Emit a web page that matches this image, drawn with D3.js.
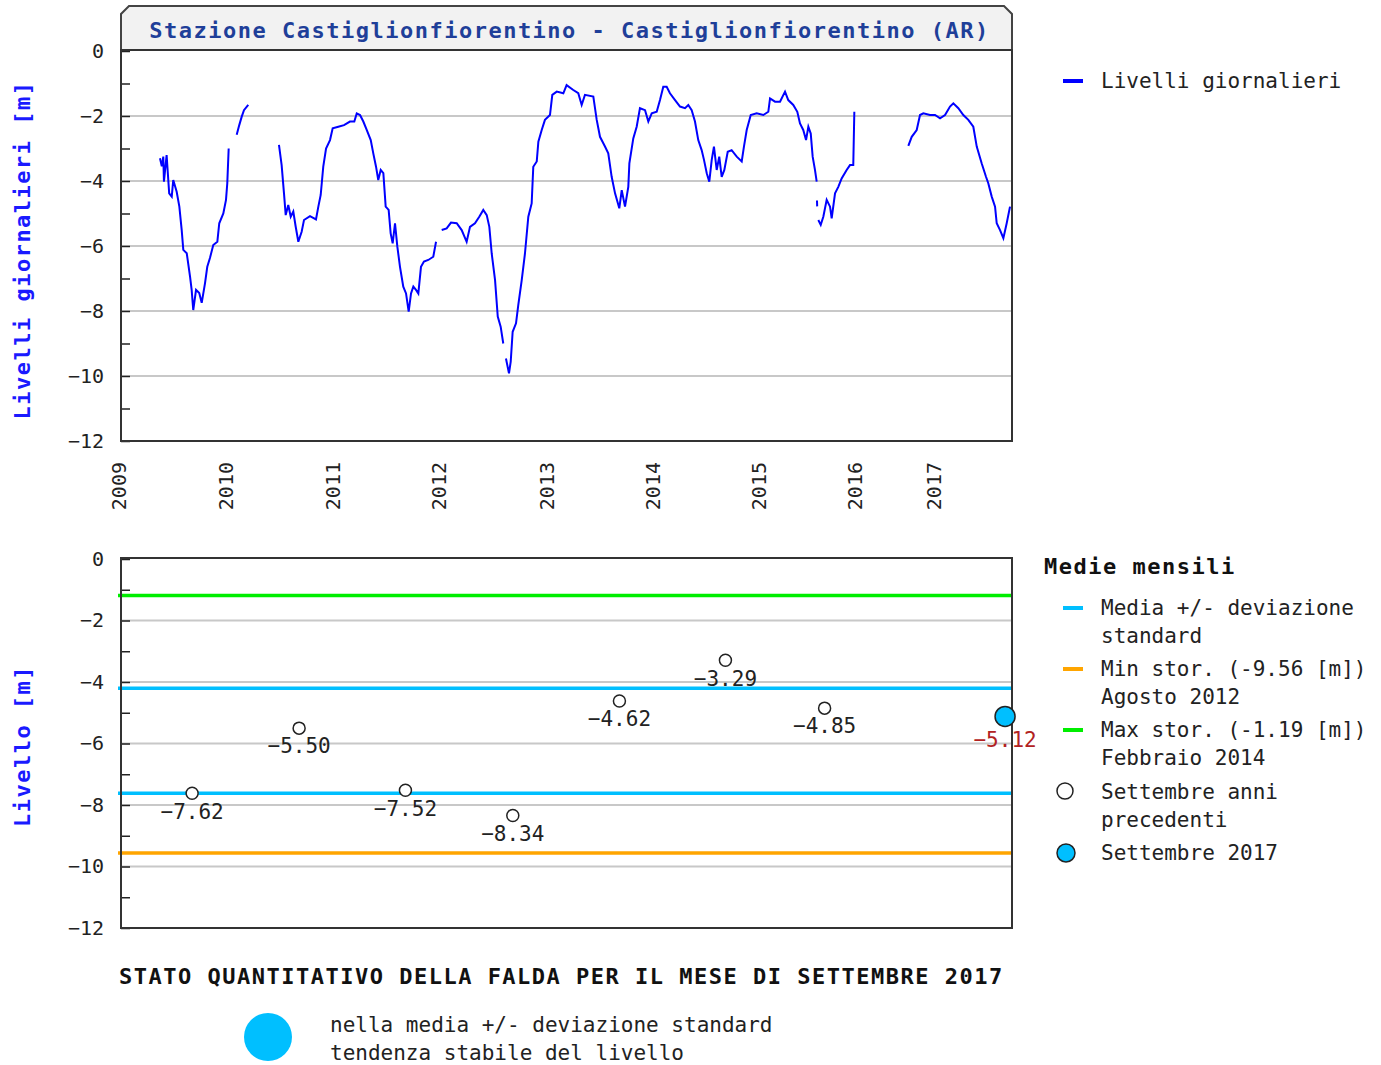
<!DOCTYPE html>
<html lang="it">
<head>
    <meta charset="UTF-8">
    <title>Stazione Castiglionfiorentino</title>
    <script src="https://d3js.org/d3.v7.min.js"></script>
    <style>
        body { margin: 0; background: #fff; }
        text { font-family: "DejaVu Sans Mono", "Liberation Mono", monospace; }
        .tick text { font-size: 20px; fill: #222; }
        .tick line { stroke: #222; stroke-width: 1.5; }
        .domain { display: none; }
        .grid { stroke: #c8c8c8; stroke-width: 2; }
        .frame { fill: none; stroke: #333; stroke-width: 2; }
        .bold { font-weight: bold; letter-spacing: 1.5px; font-size: 22px; }
        .leg { font-size: 21px; fill: #222; }
    </style>
</head>
<body>
<svg width="1381" height="1065"></svg>
<script>
// Livelli giornalieri (anno decimale, livello in m); null = dato mancante
const anni = [
  2009.383, 2009.400, 2009.414, 2009.420, 2009.445, 2009.469, 2009.493, 2009.507, 2009.539, 2009.564,
  2009.586, 2009.601, 2009.633, 2009.664, 2009.679, 2009.694, 2009.720, 2009.750, 2009.773, 2009.804,
  2009.825, 2009.850, 2009.881, 2009.919, 2009.937, 2009.975, 2010.000, 2010.012, 2010.025, 2010.060,
  2010.100, 2010.124, 2010.147, 2010.168, 2010.208, 2010.350,
  2010.495, 2010.520, 2010.542, 2010.558, 2010.582, 2010.605, 2010.629, 2010.651, 2010.676, 2010.707,
  2010.729, 2010.785, 2010.841, 2010.863, 2010.885, 2010.909, 2010.935, 2010.972, 2010.997, 2011.050,
  2011.104, 2011.160, 2011.201, 2011.224, 2011.255, 2011.286, 2011.318, 2011.356, 2011.380, 2011.406,
  2011.427, 2011.450, 2011.475, 2011.497, 2011.525, 2011.544, 2011.563, 2011.585, 2011.607, 2011.632,
  2011.663, 2011.689, 2011.714, 2011.736, 2011.758, 2011.783, 2011.805, 2011.830, 2011.858, 2011.899,
  2011.946, 2011.972, 2011.998,
  2012.025, 2012.071, 2012.111, 2012.164, 2012.210, 2012.256, 2012.287, 2012.333, 2012.373, 2012.410,
  2012.442, 2012.466, 2012.488, 2012.519, 2012.544, 2012.571, 2012.595, 2012.608,
  2012.620, 2012.648, 2012.664, 2012.682, 2012.713, 2012.734, 2012.766, 2012.796, 2012.827, 2012.858,
  2012.873, 2012.905, 2012.920, 2012.951, 2012.981, 2013.028, 2013.050, 2013.092, 2013.154, 2013.185,
  2013.248, 2013.295, 2013.327, 2013.358, 2013.437, 2013.469, 2013.500, 2013.547, 2013.578, 2013.610,
  2013.642, 2013.682, 2013.705, 2013.736, 2013.767, 2013.777, 2013.814, 2013.846, 2013.877, 2013.925,
  2013.956, 2013.988, 2014.035, 2014.066, 2014.097, 2014.129, 2014.160, 2014.208, 2014.255, 2014.302,
  2014.333, 2014.365, 2014.396, 2014.427, 2014.459, 2014.481, 2014.507, 2014.531, 2014.554, 2014.575,
  2014.601, 2014.625, 2014.648, 2014.673, 2014.705, 2014.742, 2014.790, 2014.837, 2014.858, 2014.884,
  2014.922, 2014.978, 2015.045, 2015.097, 2015.115, 2015.167, 2015.219, 2015.271, 2015.305, 2015.357,
  2015.399, 2015.427, 2015.461, 2015.490, 2015.514, 2015.539, 2015.559, 2015.583, 2015.601, 2015.602,
  2015.604, 2015.606, 2015.612,
  2015.618, 2015.643, 2015.670, 2015.705, 2015.740, 2015.757, 2015.792, 2015.826, 2015.861, 2015.913,
  2015.948, 2015.982, 2015.993, 2016.300,
  2016.675, 2016.718, 2016.781, 2016.823, 2016.865, 2016.949, 2017.010, 2017.058, 2017.106, 2017.154,
  2017.186, 2017.234, 2017.282, 2017.330, 2017.378, 2017.411, 2017.459, 2017.500, 2017.522, 2017.555,
  2017.587, 2017.603, 2017.635, 2017.667, 2017.699, 2017.731
];
const livelli = [
  -3.30, -3.55, -3.25, -4.02, -3.20, -4.38, -4.48, -3.97, -4.33, -4.79,
  -5.51, -6.12, -6.22, -6.94, -7.35, -7.97, -7.35, -7.45, -7.75, -7.14,
  -6.64, -6.37, -5.97, -5.87, -5.30, -5.00, -4.58, -4.07, -3.00, null,
  -2.58, -2.28, -2.02, -1.82, -1.66, null,
  -2.89, -3.51, -4.38, -5.05, -4.74, -5.10, -4.94, -5.40, -5.87, -5.56,
  -5.20, -5.08, -5.18, -4.79, -4.43, -3.56, -3.00, -2.74, -2.38, -2.33,
  -2.28, -2.17, -2.17, -1.92, -1.97, -2.17, -2.43, -2.74, -3.15, -3.56,
  -3.97, -3.66, -3.76, -4.79, -4.89, -5.61, -5.92, -5.30, -6.02, -6.64,
  -7.25, -7.46, -8.02, -7.46, -7.25, -7.35, -7.46, -6.64, -6.48, -6.43,
  -6.33, -5.87, null,
  -5.51, -5.46, -5.28, -5.30, -5.51, -5.87, -5.41, -5.30, -5.10, -4.89,
  -5.05, -5.41, -6.23, -7.05, -8.17, -8.48, -9.00, null,
  -9.46, -9.92, -9.56, -8.64, -8.38, -7.82, -7.05, -6.23, -5.10, -4.69,
  -3.56, -3.40, -2.79, -2.43, -2.12, -1.97, -1.35, -1.25, -1.30, -1.05,
  -1.20, -1.30, -1.66, -1.35, -1.40, -2.12, -2.64, -2.94, -3.15, -3.87,
  -4.38, -4.84, -4.28, -4.79, -4.18, -3.46, -2.69, -2.33, -1.76, -1.82,
  -2.17, -1.92, -1.87, -1.51, -1.10, -1.10, -1.30, -1.51, -1.71, -1.76,
  -1.66, -1.82, -2.17, -2.74, -3.05, -3.35, -3.76, -4.02, -3.35, -2.94,
  -3.66, -3.25, -3.87, -3.66, -3.10, -3.05, -3.25, -3.40, -2.94, -2.43,
  -1.97, -1.92, -1.97, -1.87, -1.46, -1.56, -1.56, -1.25, -1.51, -1.66,
  -1.87, -2.23, -2.43, -2.74, -2.33, -2.54, -3.25, -3.66, -4.02, null,
  -4.60, -4.78, null,
  -5.20, -5.35, -5.10, -4.58, -4.79, -5.15, -4.38, -4.18, -3.92, -3.66,
  -3.51, -3.51, -1.87, null,
  -2.92, -2.64, -2.43, -1.97, -1.92, -1.97, -1.97, -2.07, -1.97, -1.71,
  -1.61, -1.76, -1.97, -2.12, -2.33, -2.94, -3.46, -3.87, -4.07, -4.48,
  -4.79, -5.30, -5.51, -5.76, -5.30, -4.79
];

const anniTick = [2009, 2010, 2011, 2012, 2013, 2014, 2015, 2016, 2017];
const livelliTick = [0, -2, -4, -6, -8, -10, -12];
const livelliTickMinori = [-1, -3, -5, -7, -9, -11];

// Medie mensili di settembre
const anniSettembre = [2009, 2010, 2011, 2012, 2013, 2014, 2015];
const valoriSettembre = [-7.62, -5.50, -7.52, -8.34, -4.62, -3.29, -4.85];
const annoCorrente = 2017;
const valoreCorrente = -5.12;
const mediaPiuDev = -4.20;
const mediaMenoDev = -7.62;
const minStorico = -9.56;
const maxStorico = -1.19;

const svg = d3.select("svg");
const left = 121, right = 1012;
const W = right - left;

// asse x a tratti come nel grafico originale
const x = d3.scaleLinear()
    .domain([2009, 2010, 2011, 2012, 2013, 2014, 2015, 2016, 2017, 2017.75])
    .range([-2, 105, 212, 318, 426, 532, 638, 734, 813, W].map(v => v + left));

function yAxes(g, y) {
    g.append("g")
        .attr("transform", `translate(${left},0)`)
        .call(d3.axisLeft(y).tickValues(livelliTick).tickSizeInner(-9).tickSizeOuter(0)
            .tickPadding(17).tickFormat(d3.format("d")));
    g.append("g")
        .attr("transform", `translate(${left},0)`)
        .call(d3.axisLeft(y).tickValues(livelliTickMinori).tickSizeInner(-9).tickSizeOuter(0)
            .tickFormat(""));
}

// ---------- grafico superiore ----------
const yTop = d3.scaleLinear().domain([0, -12]).range([51, 441]);
const sopra = svg.append("g");

sopra.append("path")
    .attr("d", `M${left},50 L${left},14 L${left + 8},6 L${right - 8},6 L${right},14 L${right},50 Z`)
    .attr("fill", "#f2f2f2").attr("stroke", "#444").attr("stroke-width", 2);

sopra.append("text")
    .attr("class", "bold")
    .attr("x", (left + right) / 2 + 3).attr("y", 30)
    .attr("dy", "0.35em").attr("text-anchor", "middle")
    .attr("fill", "#1f3f99")
    .text("Stazione Castiglionfiorentino - Castiglionfiorentino (AR)");

sopra.selectAll(".gtop").data([-2, -4, -6, -8, -10]).join("line")
    .attr("class", "grid")
    .attr("x1", left).attr("x2", right)
    .attr("y1", d => yTop(d)).attr("y2", d => yTop(d));

yAxes(sopra, yTop);

const linea = d3.line()
    .defined(i => livelli[i] !== null)
    .x(i => x(anni[i]))
    .y(i => yTop(livelli[i]));

sopra.append("path")
    .datum(d3.range(anni.length))
    .attr("fill", "none")
    .attr("stroke", "#0000ff")
    .attr("stroke-width", 2)
    .attr("d", linea);

sopra.append("rect").attr("class", "frame")
    .attr("x", left).attr("y", 50).attr("width", W).attr("height", 391);

sopra.selectAll(".anno").data(anniTick).join("text")
    .attr("transform", d => `translate(${x(d)},462) rotate(-90)`)
    .attr("dy", "0.35em").attr("text-anchor", "end")
    .attr("font-size", 20).attr("fill", "#222")
    .text(d => d);

sopra.append("text")
    .attr("class", "bold")
    .attr("transform", "translate(22,250) rotate(-90)")
    .attr("dy", "0.35em").attr("text-anchor", "middle")
    .attr("fill", "#1a1aff")
    .text("Livelli giornalieri [m]");

sopra.append("line")
    .attr("x1", 1063).attr("x2", 1083).attr("y1", 81).attr("y2", 81)
    .attr("stroke", "#0000ff").attr("stroke-width", 4);
sopra.append("text").attr("class", "leg")
    .attr("x", 1101).attr("y", 81).attr("dy", "0.35em")
    .text("Livelli giornalieri");

// ---------- grafico inferiore ----------
const yBot = d3.scaleLinear().domain([0, -12]).range([559, 928]);
const sotto = svg.append("g");
const settembre = 8.2 / 12;

sotto.selectAll(".gbot").data([-2, -4, -6, -8, -10]).join("line")
    .attr("class", "grid")
    .attr("x1", left).attr("x2", right)
    .attr("y1", d => yBot(d)).attr("y2", d => yBot(d));

yAxes(sotto, yBot);

const linee = [
    { v: maxStorico, c: "#00ee00" },
    { v: mediaPiuDev, c: "#00bfff" },
    { v: mediaMenoDev, c: "#00bfff" },
    { v: minStorico, c: "#ffa500" }
];
sotto.selectAll(".hl").data(linee).join("line")
    .attr("x1", left - 3).attr("x2", right)
    .attr("y1", d => yBot(d.v)).attr("y2", d => yBot(d.v))
    .attr("stroke", d => d.c).attr("stroke-width", 3.5);

const punti = anniSettembre.map((a, i) => ({ a, v: valoriSettembre[i] }));
sotto.selectAll(".pt").data(punti).join("circle")
    .attr("cx", d => x(d.a + settembre)).attr("cy", d => yBot(d.v))
    .attr("r", 6).attr("fill", "#fff").attr("stroke", "#222").attr("stroke-width", 1.5);
sotto.selectAll(".lab").data(punti).join("text")
    .attr("x", d => x(d.a + settembre)).attr("y", d => yBot(d.v) + 18)
    .attr("dy", "0.35em").attr("text-anchor", "middle")
    .attr("font-size", 21).attr("fill", "#222")
    .text(d => d3.format(".2f")(d.v).replace("-", "\u2212"));

sotto.append("rect").attr("class", "frame")
    .attr("x", left).attr("y", 558).attr("width", W).attr("height", 370);

sotto.append("circle")
    .attr("cx", x(annoCorrente + settembre)).attr("cy", yBot(valoreCorrente))
    .attr("r", 10).attr("fill", "#00bfff").attr("stroke", "#222").attr("stroke-width", 1.5);
sotto.append("text")
    .attr("x", x(annoCorrente + settembre)).attr("y", yBot(valoreCorrente) + 23)
    .attr("dy", "0.35em").attr("text-anchor", "middle")
    .attr("font-size", 21).attr("fill", "#b22222")
    .text(d3.format(".2f")(valoreCorrente).replace("-", "\u2212"));

sotto.append("text")
    .attr("class", "bold")
    .attr("transform", "translate(22,746) rotate(-90)")
    .attr("dy", "0.35em").attr("text-anchor", "middle")
    .attr("fill", "#1a1aff")
    .text("Livello [m]");

// legenda medie mensili
const leg = sotto.append("g");
leg.append("text").attr("class", "bold").attr("fill", "#111")
    .attr("x", 1044).attr("y", 566).attr("dy", "0.35em").text("Medie mensili");

const voci = [
    { c: "#00bfff", y: 608, t: ["Media +/- deviazione", "standard"] },
    { c: "#ffa500", y: 669, t: ["Min stor. (" + minStorico.toFixed(2) + " [m])", "Agosto 2012"] },
    { c: "#00ee00", y: 730, t: ["Max stor. (" + maxStorico.toFixed(2) + " [m])", "Febbraio 2014"] }
];
voci.forEach(v => {
    leg.append("line").attr("x1", 1063).attr("x2", 1083).attr("y1", v.y).attr("y2", v.y)
        .attr("stroke", v.c).attr("stroke-width", 4);
    v.t.forEach((s, i) => leg.append("text").attr("class", "leg")
        .attr("x", 1101).attr("y", v.y + i * 28).attr("dy", "0.35em").text(s));
});
leg.append("circle").attr("cx", 1065).attr("cy", 791).attr("r", 8)
    .attr("fill", "#fff").attr("stroke", "#222").attr("stroke-width", 1.5);
leg.append("text").attr("class", "leg").attr("x", 1101).attr("y", 792).attr("dy", "0.35em").text("Settembre anni");
leg.append("text").attr("class", "leg").attr("x", 1101).attr("y", 820).attr("dy", "0.35em").text("precedenti");
leg.append("circle").attr("cx", 1066).attr("cy", 853).attr("r", 9)
    .attr("fill", "#00bfff").attr("stroke", "#222").attr("stroke-width", 1.5);
leg.append("text").attr("class", "leg").attr("x", 1101).attr("y", 853).attr("dy", "0.35em").text("Settembre " + annoCorrente);

// stato quantitativo
svg.append("text").attr("class", "bold").attr("fill", "#111")
    .attr("x", 119).attr("y", 976).attr("dy", "0.35em")
    .text("STATO QUANTITATIVO DELLA FALDA PER IL MESE DI SETTEMBRE " + annoCorrente);
svg.append("ellipse").attr("cx", 268).attr("cy", 1037).attr("rx", 24).attr("ry", 24)
    .attr("fill", "#00bfff");
svg.append("text").attr("class", "leg").attr("x", 330).attr("y", 1025).attr("dy", "0.35em")
    .text("nella media +/- deviazione standard");
svg.append("text").attr("class", "leg").attr("x", 330).attr("y", 1053).attr("dy", "0.35em")
    .text("tendenza stabile del livello");
</script>
</body>
</html>
